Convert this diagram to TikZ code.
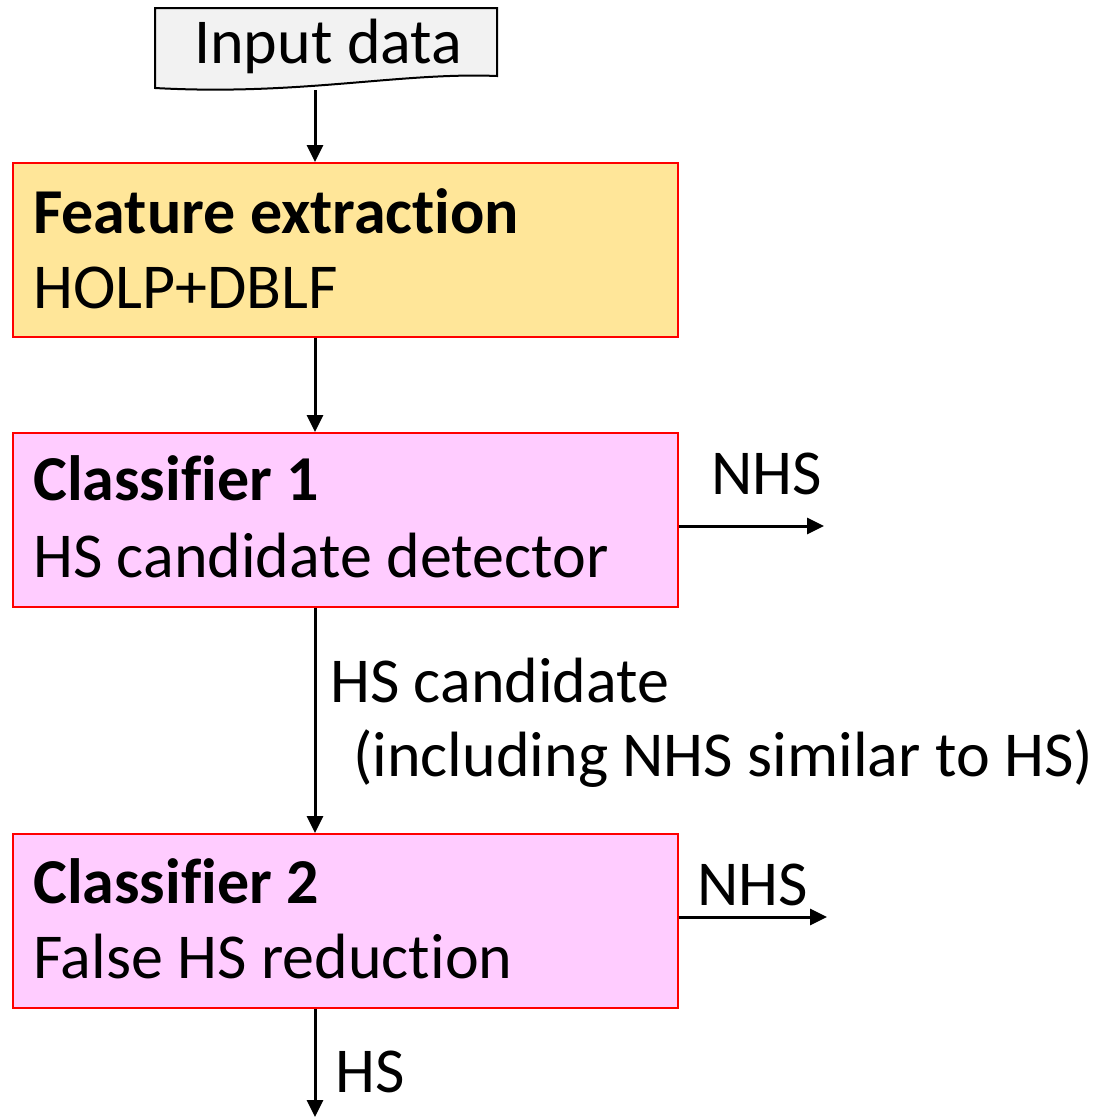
\documentclass[tikz,border=0pt]{standalone}
\usepackage{fontspec}
\setmainfont[Ligatures=NoCommon]{Carlito}
\usetikzlibrary{arrows.meta}
\definecolor{featfill}{HTML}{FFE699}
\definecolor{clsfill}{HTML}{FFCCFF}
\definecolor{docfill}{HTML}{F2F2F2}
\definecolor{boxred}{HTML}{FF0000}
\tikzset{
  procbox/.style={draw=boxred, line width=1.5pt, minimum width=665pt, minimum height=174pt, inner sep=0pt, anchor=north west},
  txt/.style={anchor=base west, inner sep=0pt, font=\fontsize{64}{76}\selectfont},
  flow/.style={line width=3pt, -{Triangle[length=17pt,width=16pt]}},
}
\begin{document}
\begin{tikzpicture}[x=1pt,y=-1pt]
\useasboundingbox (0,0) rectangle (1093,1117);
% Input document shape
\draw[fill=docfill, line width=2pt] (155,8) -- (497,8) -- (497,76)
  .. controls (400,72) and (300,96) .. (155,88) -- cycle;
\node[txt] (intxt) at (194,63) {Input data};
\coordinate (inbot) at (315,90);
% Boxes
\node[procbox, fill=featfill] (feat) at (12,162) {};
\node[procbox, fill=clsfill] (cls1) at (12,432) {};
\node[procbox, fill=clsfill] (cls2) at (12,833) {};
% Box texts
\node[txt, font=\fontsize{64}{76}\selectfont\bfseries] (feat1) at (33,233) {Feature extraction};
\node[txt] (feat2) at (33,308) {HOLP+DBLF};
\node[txt, font=\fontsize{64}{76}\selectfont\bfseries] (c1a) at (33,500) {Classifier 1};
\node[txt] (c1b) at (33,577) {HS candidate detector};
\node[txt, font=\fontsize{64}{76}\selectfont\bfseries] (c2a) at (33,903) {Classifier 2};
\node[txt] (c2b) at (33,978) {False HS reduction};
% Vertical flow
\draw[flow] (inbot) -- (feat.north -| inbot);
\draw[flow] (feat.south -| inbot) -- (cls1.north -| inbot);
\draw[flow] (cls1.south -| inbot) -- (cls2.north -| inbot);
\coordinate (hsend) at (315,1117);
\draw[flow] (cls2.south -| inbot) -- (hsend);
% Side outputs
\coordinate (nhs1end) at (824,526);
\coordinate (nhs2end) at (827,917);
\draw[flow] (cls1.east |- nhs1end) -- (nhs1end);
\draw[flow] (cls2.east |- nhs2end) -- (nhs2end);
\node[txt] (nhs1) at (711,494) {NHS};
\node[txt] (nhs2) at (697,905) {NHS};
% Labels
\node[txt] (hscand) at (330,702) {HS candidate};
\node[txt] (incl) at (353,776) {(including NHS similar to HS)};
\node[txt] (hs) at (335,1092) {HS};
\end{tikzpicture}
\end{document}
